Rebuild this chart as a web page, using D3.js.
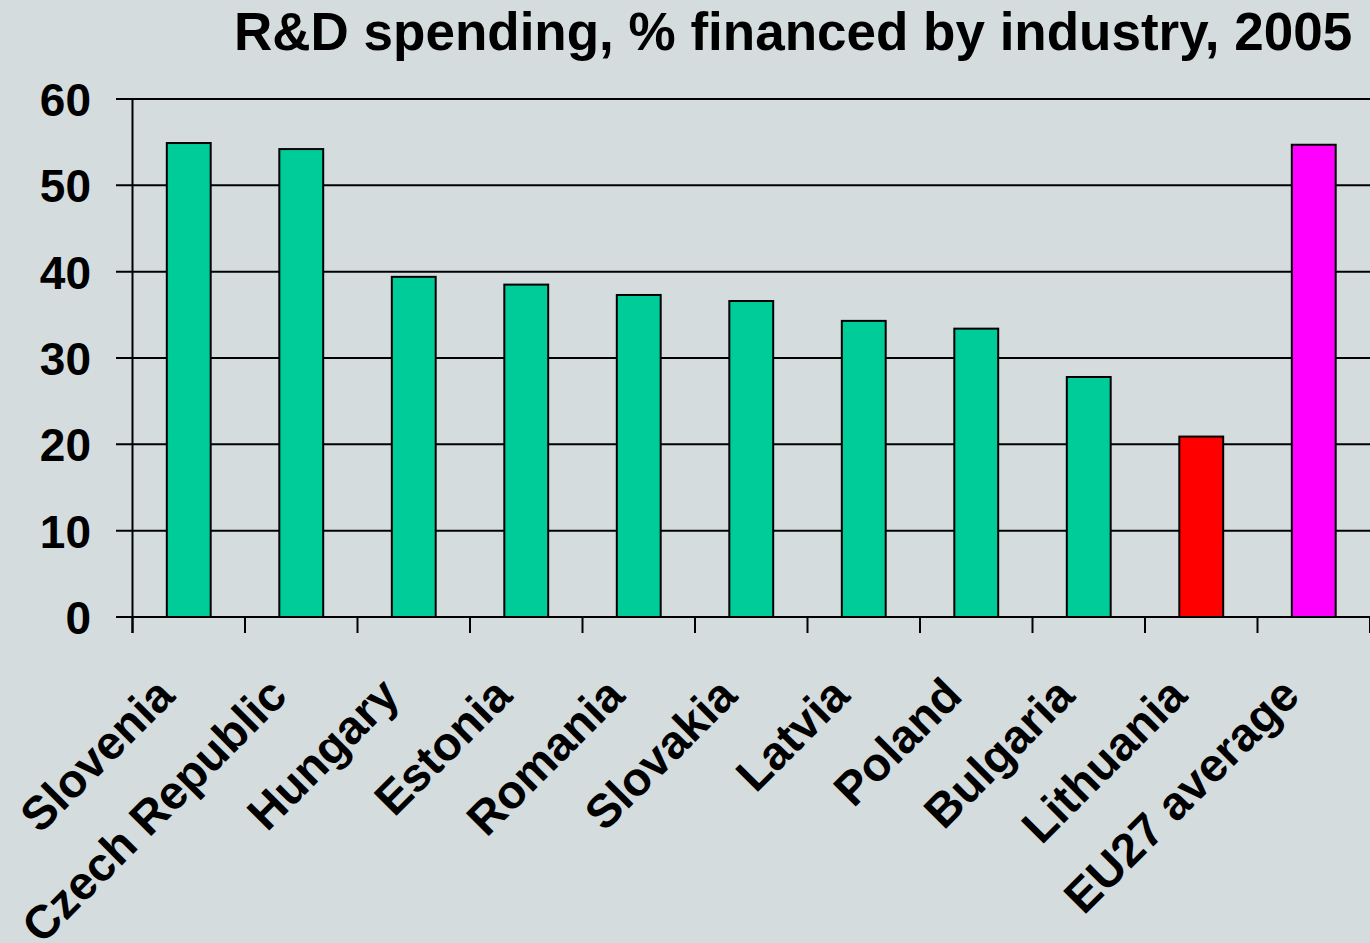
<!DOCTYPE html>
<html><head><meta charset="utf-8">
<script src="https://cdn.jsdelivr.net/npm/d3@7"></script>
<style>
html,body{margin:0;padding:0;background:#d4dcdd;}
svg{display:block;}
text{font-family:"Liberation Sans",Arial,sans-serif;font-weight:bold;fill:#000;}
</style></head>
<body>
<svg id="chart" width="1370" height="943"></svg>
<script>
const title = "R&D spending, % financed by industry, 2005";
const categories = ["Slovenia","Czech Republic","Hungary","Estonia","Romania","Slovakia","Latvia","Poland","Bulgaria","Lithuania","EU27 average"];
const values = [54.9, 54.2, 39.4, 38.5, 37.3, 36.6, 34.3, 33.4, 27.8, 20.9, 54.7];
const barColors = ["#00cc99","#00cc99","#00cc99","#00cc99","#00cc99","#00cc99","#00cc99","#00cc99","#00cc99","#ff0000","#ff00ff"];
const yTicks = [0,10,20,30,40,50,60];

const svg = d3.select("#chart");
svg.append("rect").attr("width",1370).attr("height",943).attr("fill","#d4dcdd");

const x = d3.scaleBand().domain(categories).range([132.5, 1370]).paddingInner(0.61).paddingOuter(0.305);
const band = d3.scaleBand().domain(categories).range([132.5, 1370]);
const y = d3.scaleLinear().domain([0,60]).range([617, 99]);

// gridlines
svg.append("g").selectAll("line").data(yTicks).join("line")
  .attr("x1",116).attr("x2",1370)
  .attr("y1",d=>y(d)).attr("y2",d=>y(d))
  .attr("stroke","#000").attr("stroke-width",2);

// y labels
svg.append("g").selectAll("text").data(yTicks).join("text")
  .attr("x",91).attr("y",d=>y(d)+17)
  .attr("text-anchor","end").attr("font-size",46)
  .text(d=>d);

// bars
svg.append("g").selectAll("rect").data(values).join("rect")
  .attr("x",(d,i)=>x(categories[i]))
  .attr("width",x.bandwidth())
  .attr("y",d=>y(d))
  .attr("height",d=>y(0)-y(d))
  .attr("fill",(d,i)=>barColors[i])
  .attr("stroke","#000").attr("stroke-width",2);

// y axis line
svg.append("line").attr("x1",132.5).attr("x2",132.5).attr("y1",99).attr("y2",633)
  .attr("stroke","#000").attr("stroke-width",2);

// x ticks
const tickPos = categories.map(c=>band(c)).concat([1370]);
svg.append("g").selectAll("line").data(tickPos).join("line")
  .attr("x1",d=>d).attr("x2",d=>d).attr("y1",617).attr("y2",633)
  .attr("stroke","#000").attr("stroke-width",2);

// x labels
svg.append("g").selectAll("text").data(categories).join("text")
  .attr("transform",d=>`translate(${band(d)+band.bandwidth()/2-12},698) rotate(-45)`)
  .attr("text-anchor","end").attr("font-size",47)
  .text(d=>d);

// title
svg.append("text").attr("x",234).attr("y",50).attr("font-size",53)
  .text(title);
</script>
</body></html>
